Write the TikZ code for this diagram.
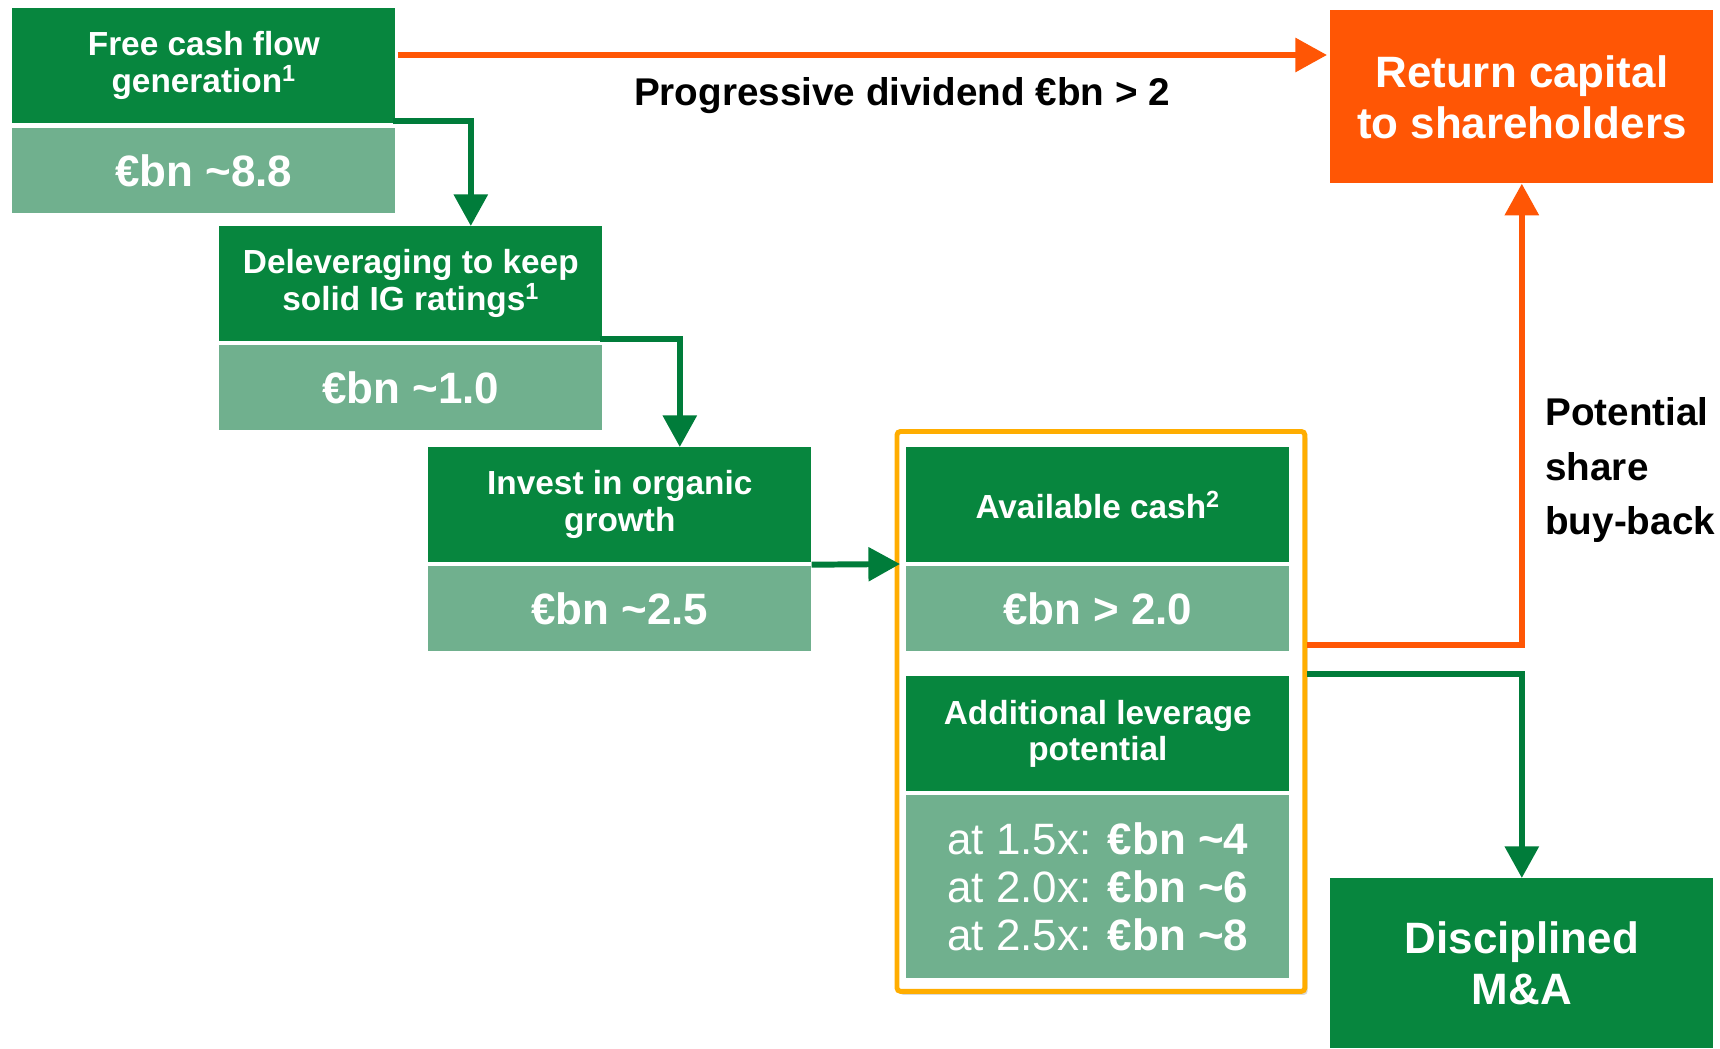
\documentclass[tikz,border=0pt]{standalone}
\usepackage{fontspec}
\setmainfont{Liberation Sans}
\usepackage{tikz}
\usetikzlibrary{arrows.meta,shadows}

\definecolor{dkgreen}{RGB}{7,134,62}
\definecolor{ltgreen}{RGB}{112,176,142}
\definecolor{flame}{RGB}{255,86,5}
\definecolor{gold}{RGB}{255,173,0}
\definecolor{arrgreen}{RGB}{0,124,58}

\begin{document}
\begin{tikzpicture}[x=0.02cm, y=-0.02cm,
  head/.style={anchor=north west, fill=dkgreen, text=white, inner sep=0pt,
    minimum width=7.66cm, minimum height=2.3cm, align=center,
    font=\bfseries\fontsize{19}{21}\selectfont},
  val/.style={anchor=north west, fill=ltgreen, text=white, inner sep=0pt,
    minimum width=7.66cm, minimum height=1.7cm, align=center,
    font=\bfseries\fontsize{25}{29}\selectfont},
  goal/.style={anchor=north west, text=white, inner sep=0pt,
    minimum width=7.66cm, minimum height=3.46cm, align=center,
    font=\bfseries\fontsize{25}{29}\selectfont},
  lbl/.style={inner sep=0pt, font=\bfseries\fontsize{22}{31.3}\selectfont},
  garrow/.style={arrgreen, line width=3.4pt, -{Triangle[width=18.8pt,length=18pt]}},
  oarrow/.style={flame, line width=3.4pt, -{Triangle[width=18.8pt,length=18pt]}}]
  \useasboundingbox (0,0) rectangle (1720,1048);

  % frame round the cash boxes
  \node[draw=gold, line width=2.8pt, fill=white, rounded corners=2pt, anchor=north west,
    minimum width=8.16cm, minimum height=11.2cm, inner sep=0pt,
    drop shadow={shadow xshift=1.5pt, shadow yshift=-2pt, opacity=0.3, fill=black!50}]
    (cashbox) at (894.5,429) {};

  % cash flow cascade
  \node[head] (fcf) at (12,8) {Free cash flow\\generation\textsuperscript{1}};
  \node[val] (fcfv) at (12,128) {€bn \textasciitilde8.8};
  \node[head] (dlv) at (219,226) {Deleveraging to keep\\solid IG ratings\textsuperscript{1}};
  \node[val] (dlvv) at (219,345) {€bn \textasciitilde1.0};
  \node[head] (inv) at (428,447) {Invest in organic\\growth};
  \node[val] (invv) at (428,566) {€bn \textasciitilde2.5};

  % what is left
  \node[head] (avl) at (906,447) {Available cash\textsuperscript{2}};
  \node[val] (avlv) at (906,566) {€bn > 2.0};
  \node[head] (lev) at (906,676) {Additional leverage\\potential};
  \node[val, minimum height=3.66cm, font=\fontsize{25}{27.3}\selectfont] (levv) at (906,795)
    {at 1.5x: \textbf{€bn \textasciitilde4}\\at 2.0x: \textbf{€bn \textasciitilde6}\\at 2.5x: \textbf{€bn \textasciitilde8}};

  % uses of the cash
  \node[goal, fill=flame] (ret) at (1330,10) {Return capital\\to shareholders};
  \node[goal, fill=dkgreen, minimum height=3.4cm] (mna) at (1330,878) {Disciplined\\M\&A};

  \node[lbl] (divlbl) at (902,96) {Progressive dividend €bn > 2};
  \node[lbl, anchor=west, align=left] (buyback) at (1545,470) {Potential\\share\\buy-back};

  \draw[oarrow] ([shift={(2,47)}]fcf.north east) -- ([shift={(-3,45)}]ret.north west);
  \draw[garrow] ([shift={(-3,-3)}]fcf.south east) -| ([xshift=1.2cm]dlv.north);
  \draw[garrow] ([shift={(-3,-3)}]dlv.south east) -| ([xshift=1.2cm]inv.north);
  \draw[garrow] ([yshift=-0.04cm]inv.south east) -- ([shift={(5.5,135)}]cashbox.north west);
  \draw[oarrow] ([shift={(0,216)}]cashbox.north east) -| (ret.south);
  \draw[garrow] ([shift={(0,245)}]cashbox.north east) -| (mna.north);
\end{tikzpicture}
\end{document}
